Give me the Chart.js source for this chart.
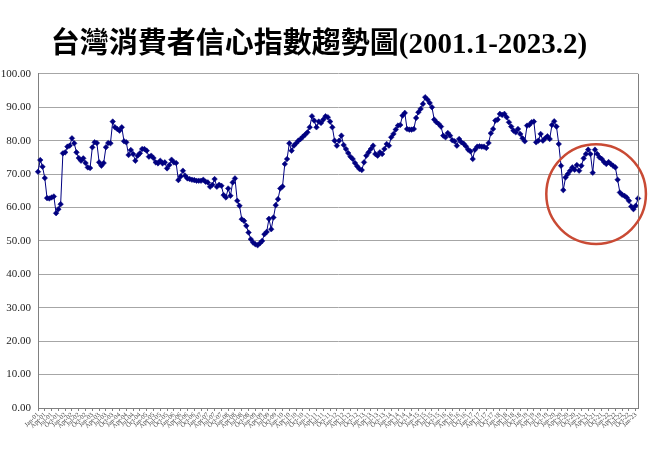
<!DOCTYPE html>
<html>
<head>
<meta charset="utf-8">
<title>台灣消費者信心指數趨勢圖</title>
<script src="https://cdn.jsdelivr.net/npm/chart.js@4.4.1/dist/chart.umd.min.js"></script>
<style>
  html, body { margin: 0; padding: 0; background: #ffffff; }
  #cciChart { display: block; }
</style>
</head>
<body>
<canvas id="cciChart" width="656" height="456"></canvas>
<script>

/*****************************/
/************DATI*************/
/*****************************/

var chartTitle = '台灣消費者信心指數趨勢圖(2001.1-2023.2)';

// anni e mesi -> categorie (2001.1 ... 2023.2)
var years = [2001, 2002, 2003, 2004, 2005, 2006, 2007, 2008, 2009, 2010, 2011, 2012,
             2013, 2014, 2015, 2016, 2017, 2018, 2019, 2020, 2021, 2022, 2023];
var monthNames = ['Jan', 'Feb', 'Mar', 'Apr', 'May', 'Jun', 'Jul', 'Aug', 'Sep', 'Oct', 'Nov', 'Dec'];
var monthsInLastYear = 2;

// tick asse y
var yTicks = [0, 10, 20, 30, 40, 50, 60, 70, 80, 90, 100];

// indice mensile
var cciValues = [
  70.7, 74.2, 72.2, 68.8, 62.8, 62.7, 63.0, 63.3, 58.3, 59.5, 61.0, 76.2, // 2001
  76.5, 78.2, 78.5, 80.7, 79.2, 76.5, 74.8, 74.0, 74.7, 73.3, 72.0, 71.8, // 2002
  78.0, 79.5, 79.3, 73.5, 72.5, 73.3, 78.0, 79.3, 79.2, 85.7, 84.0, 83.5, // 2003
  83.0, 84.0, 79.8, 79.5, 75.7, 77.2, 76.0, 74.0, 75.5, 76.2, 77.5, 77.5, // 2004
  77.0, 75.2, 75.5, 74.8, 73.5, 73.2, 74.0, 73.2, 73.5, 71.7, 72.7, 74.3, // 2005
  73.5, 73.3, 68.2, 69.3, 71.0, 69.5, 68.7, 68.5, 68.3, 68.2, 68.0, 68.0, // 2006
  68.0, 68.3, 67.7, 67.5, 66.2, 66.8, 68.5, 66.2, 66.8, 66.5, 63.7, 63.0, // 2007
  65.7, 63.5, 67.5, 68.7, 62.0, 60.5, 56.5, 56.0, 54.5, 52.5, 50.5, 49.5, // 2008
  49.0, 48.7, 49.3, 50.0, 52.0, 52.7, 56.6, 53.5, 57.0, 60.7, 62.5, 65.7, // 2009
  66.3, 73.0, 74.5, 79.2, 77.0, 78.5, 79.2, 80.0, 80.5, 81.2, 81.8, 82.5, // 2010
  84.0, 87.3, 86.0, 84.0, 85.7, 85.3, 86.3, 87.3, 87.0, 85.7, 84.0, 80.0, // 2011
  78.5, 80.0, 81.5, 78.7, 77.5, 76.3, 75.2, 74.5, 73.3, 72.3, 71.5, 71.2, // 2012
  73.5, 75.5, 76.5, 77.5, 78.5, 76.0, 75.5, 76.5, 76.0, 77.5, 79.0, 78.5, // 2013
  81.0, 82.0, 83.3, 84.5, 84.7, 87.5, 88.3, 83.5, 83.3, 83.3, 83.5, 86.8, // 2014
  88.5, 89.5, 91.0, 93.0, 92.3, 91.3, 90.0, 86.3, 85.5, 85.0, 84.2, 81.5, // 2015
  81.0, 82.3, 81.5, 80.1, 79.8, 78.5, 80.5, 79.5, 79.1, 78.3, 77.3, 76.8, // 2016
  74.5, 77.3, 78.2, 78.3, 78.2, 78.2, 77.8, 79.3, 82.2, 83.5, 86.0, 86.3, // 2017
  88.0, 87.7, 88.0, 87.0, 85.5, 84.2, 83.0, 82.5, 83.5, 82.0, 80.7, 79.8, // 2018
  84.5, 84.7, 85.5, 85.7, 79.5, 80.0, 82.0, 80.0, 80.7, 81.3, 80.5, 84.7, // 2019
  85.8, 84.2, 79.0, 72.5, 65.2, 69.0, 70.0, 71.0, 72.0, 71.3, 72.7, 71.0, // 2020
  72.5, 74.7, 76.0, 77.3, 76.0, 70.4, 77.3, 76.0, 75.0, 74.5, 73.6, 73.0, // 2021
  73.6, 73.0, 72.5, 72.0, 68.3, 64.5, 63.8, 63.5, 63.0, 62.0, 60.3, 59.5, // 2022
  60.5, 62.7                                                              // 2023
];

// zona evidenziata (cerchio rosso): mese centrale, valore centrale, raggio in mesi
var highlightMonth = 246.5;
var highlightValue = 64;
var highlightSpanMonths = 22;

/*****************************/
/**********PROGRAMMA**********/
/*****************************/

var monthLabels = buildMonthLabels(years, monthNames, monthsInLastYear);

var lineColor = '#000080';
var gridColor = '#a6a6a6';
var axisColor = '#808080';

// bordo destro del grafico + cerchio rosso
var frameAndCircle = {
  id: 'frameAndCircle',
  afterDraw: function (chart) {
    var ctx = chart.ctx;
    var area = chart.chartArea;
    var xScale = chart.scales.x;
    var yScale = chart.scales.y;

    ctx.save();
    ctx.strokeStyle = axisColor;
    ctx.lineWidth = 1;
    ctx.beginPath();
    ctx.moveTo(area.right + 0.5, area.top);
    ctx.lineTo(area.right + 0.5, area.bottom);
    ctx.stroke();

    var cx = xScale.getPixelForValue(highlightMonth);
    var cy = yScale.getPixelForValue(highlightValue);
    var r = xScale.getPixelForValue(highlightSpanMonths) - xScale.getPixelForValue(0);
    ctx.strokeStyle = '#c94a34';
    ctx.lineWidth = 2.5;
    ctx.beginPath();
    ctx.arc(cx, cy, r, 0, Math.PI * 2);
    ctx.stroke();
    ctx.restore();
  }
};

var cciChart = new Chart(document.getElementById('cciChart'), {
  type: 'line',
  data: {
    labels: monthLabels,
    datasets: [{
      label: 'CCI',
      data: cciValues,
      borderColor: lineColor,
      backgroundColor: lineColor,
      borderWidth: 1,
      pointStyle: 'rectRot',
      pointRadius: 2.8,
      pointBorderWidth: 0.5,
      pointBackgroundColor: lineColor,
      pointBorderColor: lineColor,
      tension: 0,
      fill: false
    }]
  },
  options: {
    responsive: false,
    animation: false,
    devicePixelRatio: 1,
    layout: { padding: { left: 0, right: 18, top: 0, bottom: 0 } },
    plugins: {
      legend: { display: false },
      tooltip: { enabled: false },
      title: {
        display: true,
        text: chartTitle,
        color: '#000000',
        font: { family: '"Liberation Serif", "Noto Sans CJK TC", serif', size: 29, weight: 'bold', lineHeight: 1.2 },
        padding: { top: 28, bottom: 11 }
      }
    },
    scales: {
      x: {
        type: 'category',
        offset: false,
        afterFit: function (scale) { scale.height = 48; },
        border: { color: axisColor, width: 1 },
        grid: { display: true, drawOnChartArea: false, drawTicks: true, tickLength: 3, color: axisColor },
        ticks: {
          autoSkip: false,
          maxRotation: 45,
          minRotation: 45,
          padding: 0,
          color: '#444444',
          font: { family: '"Liberation Serif", serif', size: 6.5 },
          callback: function (value, index) {
            return index % 3 === 0 ? this.getLabelForValue(value) : null;
          }
        }
      },
      y: {
        min: yTicks[0],
        max: yTicks[yTicks.length - 1],
        afterFit: function (scale) { scale.width = 38; },
        afterBuildTicks: function (scale) {
          scale.ticks = yTicks.map(function (v) { return { value: v }; });
        },
        border: { color: axisColor, width: 1 },
        grid: { color: gridColor, lineWidth: 1, drawTicks: false },
        ticks: {
          padding: 7,
          color: '#222222',
          font: { family: '"Liberation Serif", serif', size: 11 },
          callback: function (value) { return value.toFixed(2); }
        }
      }
    }
  },
  plugins: [frameAndCircle]
});

/**********************************/
/*************FUNZIONI*************/
/**********************************/

// etichette mensili tipo "Jan-01"
function buildMonthLabels(yearList, names, lastYearMonths) {
  var labels = [];
  yearList.forEach(function (year, yearIndex) {
    var count = (yearIndex === yearList.length - 1) ? lastYearMonths : names.length;
    var shortYear = String(year).slice(2);
    for (var m = 0; m < count; m++) {
      labels.push(names[m] + '-' + shortYear);
    }
  });
  return labels;
}

</script>
</body>
</html>
